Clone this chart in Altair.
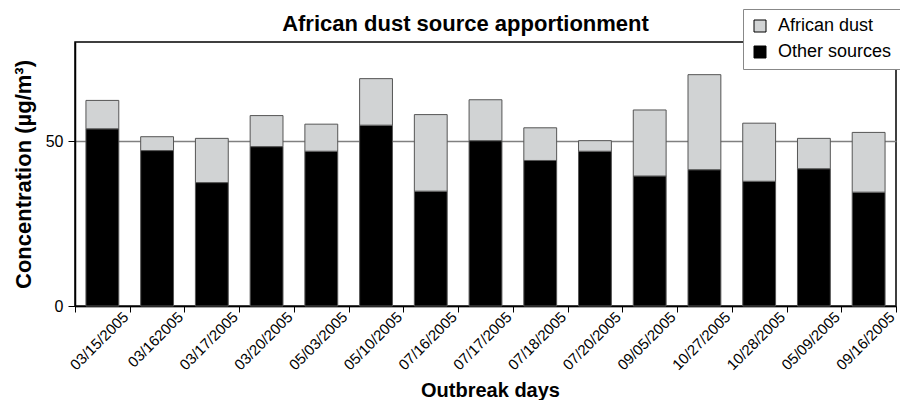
import altair as alt
import pandas as pd

days = ["03/15/2005", "03/162005", "03/17/2005", "03/20/2005", "05/03/2005",
        "05/10/2005", "07/16/2005", "07/17/2005", "07/18/2005", "07/20/2005",
        "09/05/2005", "10/27/2005", "10/28/2005", "05/09/2005", "09/16/2005"]
other_sources = [53.7, 47.1, 37.4, 48.3, 46.9, 54.8, 34.8, 50.1, 44.1, 46.9,
                 39.4, 41.3, 37.8, 41.6, 34.5]
african_dust = [8.6, 4.2, 13.4, 9.4, 8.2, 14.1, 23.2, 12.4, 9.9, 3.2,
                20.0, 28.8, 17.6, 9.2, 18.1]
series = ["African dust", "Other sources"]
colors = ["#d1d3d4", "#000000"]

rows = []
for i, d in enumerate(days):
    rows.append({"day": d, "source": "Other sources", "value": other_sources[i], "ord": 0})
    rows.append({"day": d, "source": "African dust", "value": african_dust[i], "ord": 1})
df = pd.DataFrame(rows)

FONT = "Liberation Sans"

chart = alt.Chart(df).mark_bar(
    width=alt.RelativeBandSize(0.6), stroke="#555555", strokeWidth=1
).encode(
    x=alt.X("day:N", sort=days,
            scale=alt.Scale(paddingInner=0, paddingOuter=0),
            axis=alt.Axis(title="Outbreak days", labelAngle=-45, labelAlign="right",
                          labelBaseline="middle", labelFontSize=15, labelFont=FONT,
                          labelColor="#000", labelOffset=23, labelPadding=2,
                          tickBand="extent", tickSize=6, tickColor="#000",
                          domainColor="#000", domainWidth=1.5, grid=False,
                          titleFont=FONT, titleFontSize=20, titleFontWeight="bold",
                          titleColor="#000", titleX=415, titleY=94,
                          titleBaseline="bottom", titleAlign="center")),
    y=alt.Y("value:Q", stack="zero",
            scale=alt.Scale(domain=[0, 80], nice=False),
            axis=alt.Axis(title="Concentration (µg/m³)", values=[0, 50],
                          labelFontSize=16, labelFont=FONT, labelColor="#000",
                          labelPadding=5, tickSize=7, tickColor="#000",
                          domainColor="#000", domainWidth=1.5,
                          grid=True, gridColor="#808080", gridWidth=1.5,
                          titleFont=FONT, titleFontSize=22, titleFontWeight="bold",
                          titleColor="#000", titleX=-52, titleY=132,
                          titleAngle=-90, titleBaseline="middle", titleAlign="center")),
    fill=alt.Fill("source:N", sort=series,
                  scale=alt.Scale(domain=series, range=colors),
                  legend=alt.Legend(title=None, orient="none", legendX=668, legendY=-33,
                                    direction="vertical", symbolType="square",
                                    symbolSize=144, symbolStrokeColor="#000",
                                    symbolStrokeWidth=1, labelFontSize=18,
                                    labelFont=FONT, labelColor="#000", labelOffset=9,
                                    rowPadding=8, padding=8, fillColor="white",
                                    strokeColor="#888888", labelLimit=300)),
    order=alt.Order("ord:Q"),
).properties(
    width=821, height=264,
    title=alt.TitleParams("African dust source apportionment", font=FONT,
                          fontSize=22, fontWeight="bold", color="#000",
                          anchor="middle", dx=-20, offset=-27),
    autosize=alt.AutoSizeParams(type="none"),
    padding={"left": 67, "top": 34, "right": 4, "bottom": 94},
).configure_view(stroke="#000", strokeWidth=1.5)

chart.save("out.html", embed_options={"renderer": "svg", "actions": False})
